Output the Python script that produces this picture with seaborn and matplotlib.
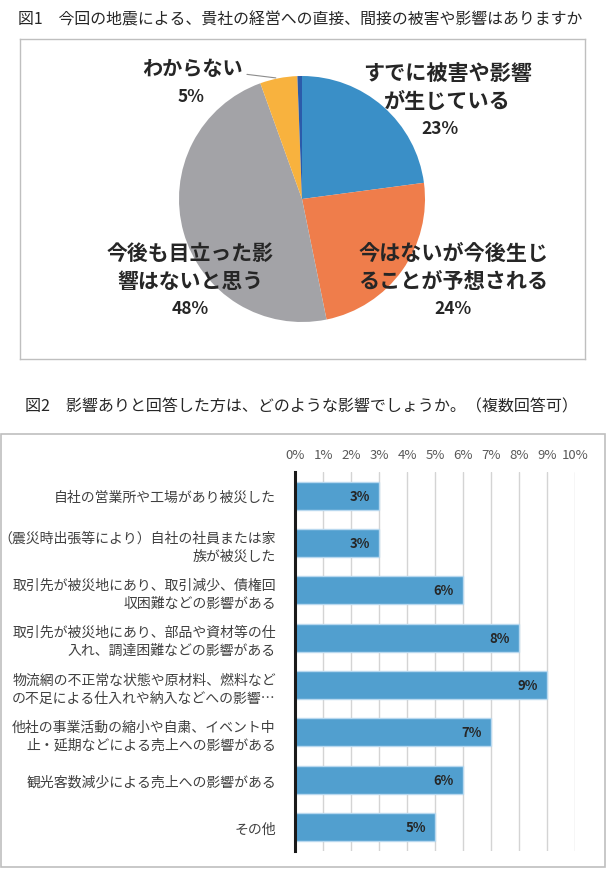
import numpy as np
import matplotlib
matplotlib.use("Agg")
import matplotlib.pyplot as plt
from matplotlib.patches import Rectangle
import seaborn as sns

# 図1 data
pie_names = ["すでに被害や影響\nが生じている", "今はないが今後生じ\nることが予想される",
             "今後も目立った影\n響はないと思う", "わからない", ""]
pie_values = [22.9, 23.9, 47.7, 4.9, 0.6]
pie_colors = ["#3A8FC7", "#EF7D4B", "#A3A3A7", "#F8B23E", "#2B5BAA"]

# 図2 data
bar_labels = [
    "自社の営業所や工場があり被災した",
    "（震災時出張等により）自社の社員または家\n族が被災した",
    "取引先が被災地にあり、取引減少、債権回\n収困難などの影響がある",
    "取引先が被災地にあり、部品や資材等の仕\n入れ、調達困難などの影響がある",
    "物流網の不正常な状態や原材料、燃料など\nの不足による仕入れや納入などへの影響…",
    "他社の事業活動の縮小や自粛、イベント中\n止・延期などによる売上への影響がある",
    "観光客数減少による売上への影響がある",
    "その他",
]
bar_values = [3, 3, 6, 8, 9, 7, 6, 5]
x_ticks = list(range(0, 11))

title1 = "図1　今回の地震による、貴社の経営への直接、間接の被害や影響はありますか"
title2 = "図2　影響ありと回答した方は、どのような影響でしょうか。（複数回答可）"

sns.set_style("white")
plt.rcParams['font.family'] = ['Noto Sans CJK JP', 'DejaVu Sans']

W, H = 606, 870
fig = plt.figure(figsize=(W / 100, H / 100), dpi=100)

def fig_rect(x0, y0, x1, y1):
    return [x0 / W, (H - y1) / H, (x1 - x0) / W, (y1 - y0) / H]

# ---- pie ----
R = 123.0
cx, cy = 302.0, 200.0
box = (20, 40, 585, 360)
ax1 = fig.add_axes(fig_rect(*box))
wedges, _ = ax1.pie(pie_values, colors=pie_colors, startangle=90, counterclock=False,
                    radius=1, wedgeprops=dict(linewidth=0))
ax1.set_aspect('auto')
ax1.set_xlim((box[0] - cx) / R, (box[2] - cx) / R)
ax1.set_ylim((cy - box[3]) / R, (cy - box[1]) / R)
ax1.set_frame_on(True)
for s in ax1.spines.values():
    s.set_color("#BFBFBF")
    s.set_linewidth(1)
ax1.set_xticks([])
ax1.set_yticks([])

# label positions (in pie radius units)
name_pos = [(1.18, 0.915), (1.23, -0.549), (-0.91, -0.549), (-0.89, 1.073)]
pct_pos = [(1.12, 0.577), (1.23, -0.886), (-0.91, -0.886), (-0.90, 0.837)]
name_size = [15.2, 15.2, 15.0, 14.5]
for i in range(4):
    ax1.text(*name_pos[i], pie_names[i], ha='center', va='center', fontsize=name_size[i],
             fontweight='bold', color='#262626', linespacing=1.4)
    ax1.text(*pct_pos[i], f"{round(pie_values[i])}%", ha='center', va='center',
             fontsize=12.5, fontweight='bold', color='#262626')

# leader line for わからない
w = wedges[3]
mid = np.deg2rad((w.theta1 + w.theta2) / 2)
ax1.annotate("", xy=(np.cos(mid), np.sin(mid)), xytext=(-0.47, 1.016),
             arrowprops=dict(arrowstyle='-', color='#8C8C8C', lw=0.8))

fig.text(18 / W, 1 - 19.5 / H, title1, ha='left', va='center', fontsize=11.45, color='#262626')
fig.text(25 / W, 1 - 407 / H, title2, ha='left', va='center', fontsize=11.55, color='#262626')

# ---- bar ----
fig.patches.append(Rectangle((0.5 / W, 2 / H), 604 / W, 433 / H, transform=fig.transFigure,
                             fill=False, edgecolor="#BFBFBF", linewidth=1.2))
ax2 = fig.add_axes(fig_rect(295.3, 473, 574.7, 851.7))
sns.barplot(x=bar_values, y=bar_labels, orient='h', color="#519FCF", saturation=1,
            width=0.59, edgecolor="#B8D8EF", linewidth=1, ax=ax2)
ax2.set_xlim(0, 10)
ax2.set_xticks(x_ticks)
ax2.set_xticklabels([f"{t}%" for t in x_ticks])
ax2.xaxis.tick_top()
ax2.tick_params(axis='x', length=0, pad=8, labelsize=9.5, labelcolor='#595959')
ax2.tick_params(axis='y', length=0, pad=14, labelsize=10, labelcolor='#404040')
for lab in ax2.get_yticklabels():
    lab.set_linespacing(1.35)
ax2.set_xlabel("")
ax2.set_ylabel("")
ax2.grid(axis='x', color='#D4D4D4', linewidth=1)
ax2.grid(axis='y', visible=False)
ax2.set_axisbelow(True)
for k in ['top', 'right', 'bottom']:
    ax2.spines[k].set_visible(False)
ax2.spines['left'].set_color('#1A1A1A')
ax2.spines['left'].set_linewidth(2.2)
for i, v in enumerate(bar_values):
    ax2.text(v - 0.33, i, f"{v}%", ha='right', va='center', fontsize=9.5,
             fontweight='bold', color='#262626')

fig.savefig("out.png", dpi=100)
